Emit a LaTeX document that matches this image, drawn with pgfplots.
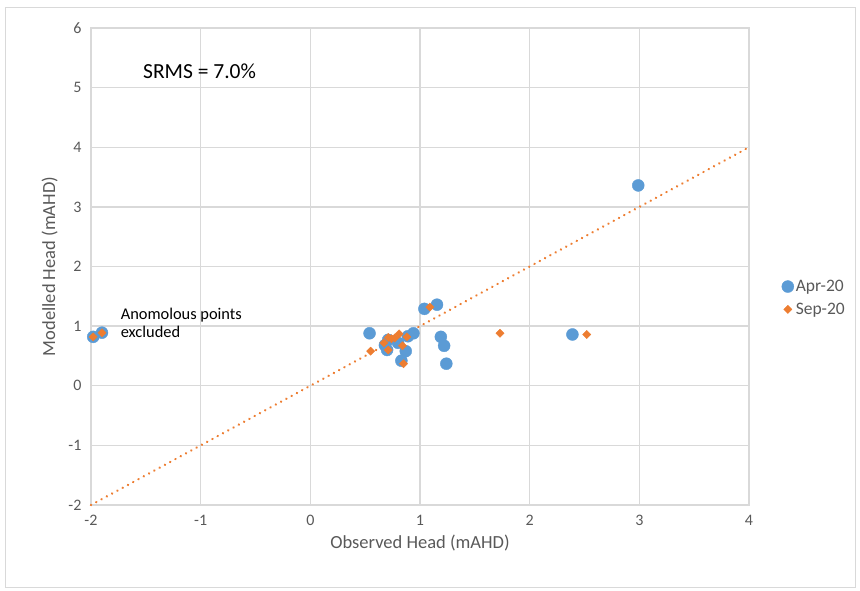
\documentclass[border=0pt]{standalone}
\usepackage{pgfplots}
\pgfplotsset{compat=1.18}
\usepackage{fontspec}
\setmainfont{Carlito}
\definecolor{cblue}{HTML}{5B9BD5}
\definecolor{corange}{HTML}{ED7D31}
\definecolor{cgrid}{HTML}{D9D9D9}
\definecolor{ctext}{HTML}{595959}
\begin{document}
\begin{tikzpicture}[x=1pt,y=1pt]
\useasboundingbox (0,0) rectangle (860,590);
\draw[cgrid] (5,3) rectangle (855,583);
\begin{axis}[
  at={(91pt,85pt)}, anchor=south west,
  scale only axis, width=658pt, height=477pt,
  xmin=-2, xmax=4, ymin=-2, ymax=6,
  xtick={-2,...,4}, ytick={-2,...,6},
  grid=major, major grid style={cgrid, line width=1.3pt},
  axis line style={cgrid, line width=1.3pt},
  major tick length=0pt,
  tick label style={text=ctext, font=\fontsize{16}{18}\selectfont},
  /pgf/number format/assume math mode=true,
  xticklabel style={yshift=-7pt},
  yticklabel style={xshift=-6pt},
  xlabel={Observed Head (mAHD)}, ylabel={Modelled Head (mAHD)},
  label style={text=ctext, font=\fontsize{18.5}{20}\selectfont},
  xlabel style={yshift=-2pt},
  ylabel style={yshift=4pt},
  legend style={draw=none, fill=none, at={(1.045,0.434)}, anchor=west,
    font=\fontsize{17.5}{19}\selectfont, text=ctext, row sep=6pt},
  legend cell align=left,
  clip=false,
]
\addplot[corange, line width=2.6pt, dash pattern=on 0.01pt off 6pt, line cap=round, forget plot] coordinates {(-2,-2) (4,4)};
\addplot[only marks, mark=*, mark size=6pt, color=cblue, mark options={fill=cblue, draw=cblue}] coordinates {
(-1.98,0.82) (-1.90,0.89)
(0.54,0.88) (1.04,1.29) (1.155,1.36) (0.94,0.88) (1.19,0.82) (1.22,0.67) (1.24,0.37)
(0.71,0.77) (0.70,0.60) (0.87,0.58) (0.83,0.42) (0.80,0.72) (0.89,0.83) (0.68,0.68)
(2.39,0.86) (2.99,3.36)
};
\addlegendentry{Apr-20}
\addplot[only marks, mark=square*, mark size=2.9pt, color=corange, mark options={fill=corange, draw=corange, rotate=45}] coordinates {
(-1.98,0.82) (-1.90,0.89)
(1.73,0.88) (1.09,1.32) (0.55,0.58) (0.67,0.72) (0.71,0.81) (0.71,0.60) (0.81,0.87)
(0.84,0.67) (0.88,0.82) (0.85,0.37) (0.77,0.80) (0.74,0.79)
(2.52,0.86)
};
\addlegendentry{Sep-20}
\node[anchor=west, font=\fontsize{21.5}{23}\selectfont, text=black, inner sep=0pt] at (axis cs:-1.526,5.27) {SRMS = 7.0\%};
\node[anchor=west, align=left, font=\fontsize{16.4}{18}\selectfont, text=black, inner sep=0pt] at (axis cs:-1.73,1.05) {Anomolous points\\excluded};
\end{axis}
\end{tikzpicture}
\end{document}
